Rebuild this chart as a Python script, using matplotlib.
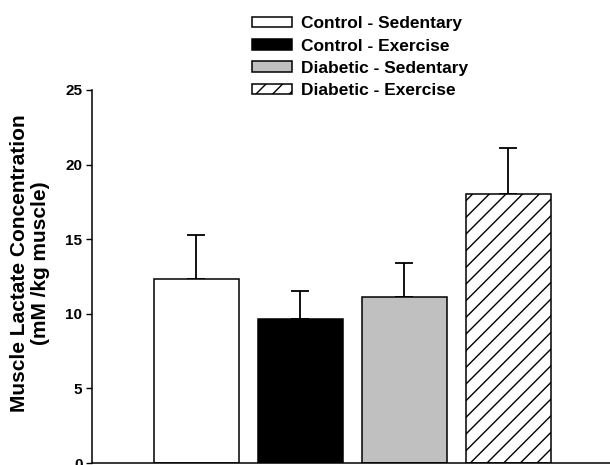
import numpy as np
import matplotlib
matplotlib.use("Agg")
import matplotlib.pyplot as plt

plt.rcParams["font.family"] = ["Liberation Sans", "DejaVu Sans"]
plt.rcParams["font.weight"] = "bold"
plt.rcParams["hatch.linewidth"] = 1.0

# data
groups = ["Control - Sedentary", "Control - Exercise", "Diabetic - Sedentary", "Diabetic - Exercise"]
means = [12.3, 9.65, 11.15, 18.05]
sem = [2.97, 1.88, 2.25, 3.07]
colors = ["white", "black", "#c0c0c0", "white"]
hatches = [None, None, None, "//"]
yticks = [0, 5, 10, 15, 20, 25]

fig = plt.figure(figsize=(6.1, 4.65), dpi=100)
ax = fig.add_axes([0.15, 0.0043, 0.85, 0.8022])

x = np.arange(len(groups))
bars = ax.bar(x, means, width=0.817, color=colors, edgecolor="black",
              linewidth=1.1, label=groups, zorder=2)
for b, h in zip(bars, hatches):
    if h:
        b.set_hatch(h)

# only the upper half of the error bar
ax.errorbar(x, means, yerr=[np.zeros(len(sem)), sem], fmt="none",
            ecolor="black", elinewidth=1.3, capsize=6.3, capthick=1.3, zorder=1)

ax.set_xlim(-1.01, 3.98)
ax.set_ylim(0, 25)
ax.set_yticks(yticks)
ax.set_xticks([])
ax.tick_params(axis="y", direction="out", length=4.5, width=1.0, pad=2,
               labelsize=11)
for lab in ax.get_yticklabels():
    lab.set_fontweight("bold")
ax.spines["top"].set_visible(False)
ax.spines["right"].set_visible(False)
ax.spines["left"].set_linewidth(1.1)
ax.spines["bottom"].set_linewidth(1.1)

fig.text(30 / 610, 1 - 263 / 465,
         "Muscle Lactate Concentration\n(mM /kg muscle)",
         rotation=90, ha="center", va="center", multialignment="center",
         fontsize=15, fontweight="bold", linespacing=1.1)

leg = fig.legend(handles=list(bars), labels=groups, loc="upper left",
                 bbox_to_anchor=(0.4126, 0.965), frameon=False,
                 borderpad=0, borderaxespad=0, fontsize=12.5,
                 handlelength=2.3, handleheight=0.55, handletextpad=0.55,
                 labelspacing=0.42)
for t in leg.get_texts():
    t.set_fontweight("bold")

fig.savefig("out.png", dpi=100)
